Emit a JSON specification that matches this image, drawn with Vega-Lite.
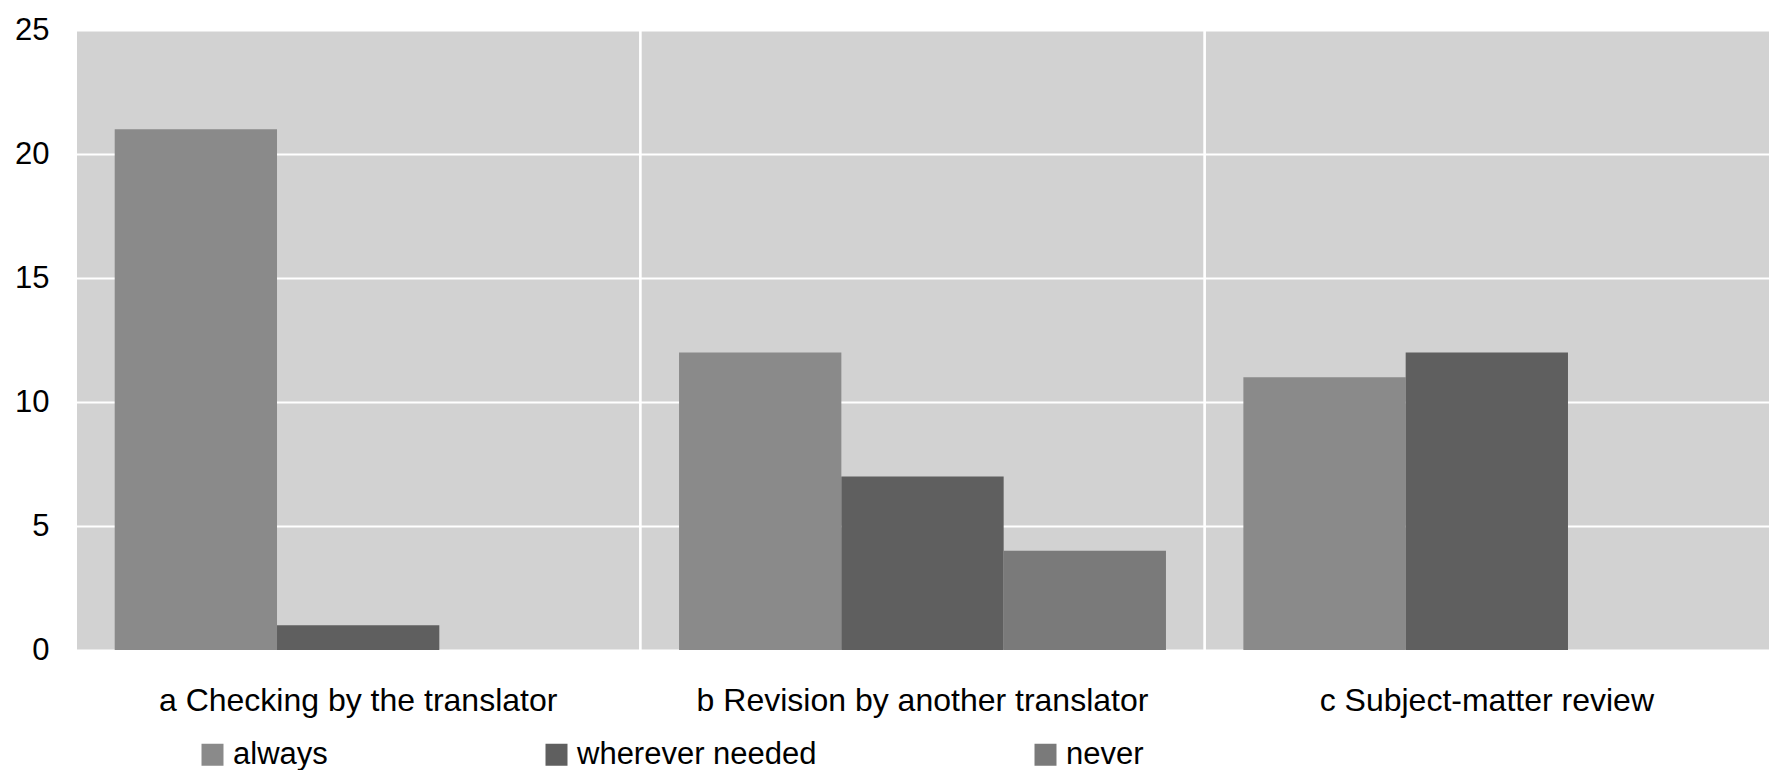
{
  "$schema": "https://vega.github.io/schema/vega-lite/v6.json",
  "width": 1693,
  "height": 620,
  "autosize": {"type": "none"},
  "padding": {"left": 76, "top": 30, "right": 0, "bottom": 120},
  "background": "white",
  "config": {
    "font": "Liberation Sans",
    "view": {"fill": "#d2d2d2", "stroke": null},
    "axis": {"domain": false, "ticks": false, "labelColor": "#000000", "title": null}
  },
  "data": {
    "values": [
      {"step": "a Checking by the translator", "frequency": "always", "count": 21},
      {"step": "a Checking by the translator", "frequency": "wherever needed", "count": 1},
      {"step": "a Checking by the translator", "frequency": "never", "count": 0},
      {"step": "b Revision by another translator", "frequency": "always", "count": 12},
      {"step": "b Revision by another translator", "frequency": "wherever needed", "count": 7},
      {"step": "b Revision by another translator", "frequency": "never", "count": 4},
      {"step": "c Subject-matter review", "frequency": "always", "count": 11},
      {"step": "c Subject-matter review", "frequency": "wherever needed", "count": 12},
      {"step": "c Subject-matter review", "frequency": "never", "count": 0}
    ]
  },
  "layer": [
    {
      "mark": {"type": "bar", "cornerRadius": 0},
      "encoding": {
        "x": {
          "field": "step",
          "type": "nominal",
          "scale": {"paddingInner": 0, "paddingOuter": 0},
          "axis": {"labelAngle": 0, "labelFontSize": 32, "labelPadding": 35, "labelLimit": 0, "grid": false, "bandPosition": 0.5}
        },
        "xOffset": {
          "field": "frequency",
          "type": "nominal",
          "sort": ["always", "wherever needed", "never"],
          "scale": {"paddingInner": 0, "paddingOuter": 0.2385}
        },
        "y": {
          "field": "count",
          "type": "quantitative",
          "scale": {"domain": [0, 25], "nice": false},
          "axis": {
            "values": [0, 5, 10, 15, 20, 25],
            "grid": true,
            "gridColor": "white",
            "gridWidth": 2,
            "gridOpacity": 1,
            "labelFontSize": 31,
            "labelPadding": 27
          }
        },
        "color": {
          "field": "frequency",
          "type": "nominal",
          "sort": ["always", "wherever needed", "never"],
          "scale": {
            "domain": ["always", "wherever needed", "never"],
            "range": ["#8a8a8a", "#5f5f5f", "#7a7a7a"]
          },
          "legend": {
            "orient": "none",
            "legendX": 121,
            "legendY": 709,
            "direction": "horizontal",
            "title": null,
            "padding": 0,
            "columnPadding": 213,
            "labelOffset": 5,
            "labelFontSize": 31,
            "labelLimit": 0,
            "labelColor": "#000000",
            "symbolType": "square",
            "symbolSize": 484,
            "symbolStrokeWidth": 0,
            "symbolOpacity": 1
          }
        }
      }
    },
    {
      "mark": {"type": "rule", "color": "white", "strokeWidth": 2},
      "encoding": {
        "x": {
          "field": "step",
          "type": "nominal",
          "bandPosition": 0,
          "axis": {"labelAngle": 0, "labelFontSize": 32, "labelPadding": 35, "labelLimit": 0, "grid": false, "bandPosition": 0.5}
        }
      }
    }
  ]
}
